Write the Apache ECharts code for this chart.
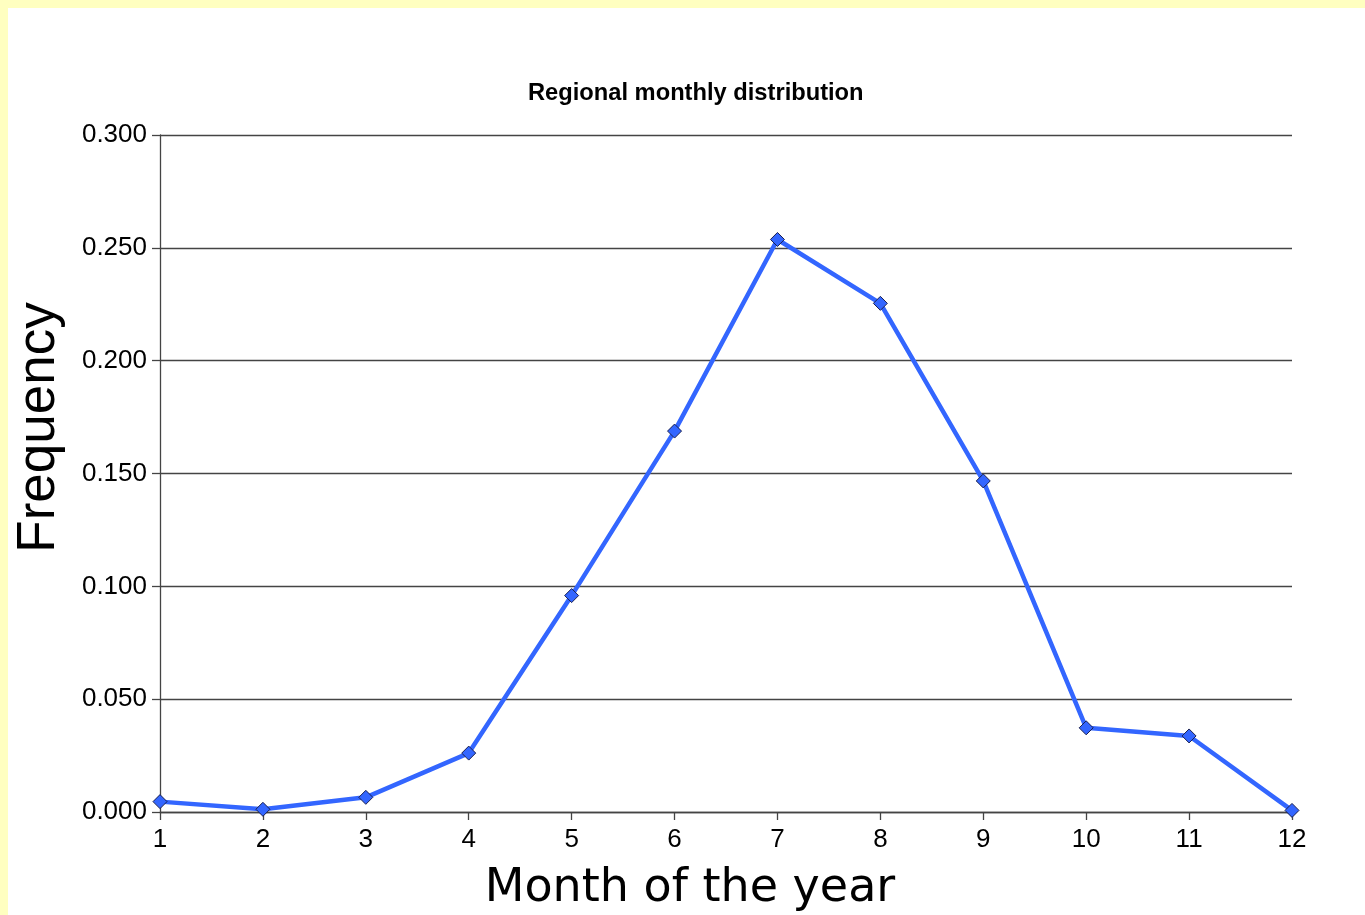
<!DOCTYPE html>
<html>
<head>
<meta charset="utf-8">
<title>Regional monthly distribution</title>
<script src="https://cdn.jsdelivr.net/npm/echarts@6/dist/echarts.min.js"></script>
<style>
  html, body { margin: 0; padding: 0; background: #ffffc0; }
  #chart { width: 1365px; height: 915px; }
</style>
</head>
<body>
<div id="chart"></div>
<script>
// Months along the horizontal axis
const months = ['1', '2', '3', '4', '5', '6', '7', '8', '9', '10', '11', '12'];
// Share of annual occurrences falling in each month
const frequency = [0.0046, 0.0012, 0.0065, 0.0261, 0.0959, 0.1688, 0.2537, 0.2254, 0.1467, 0.0373, 0.0337, 0.0007];

const chart = echarts.init(document.getElementById('chart'), null, { renderer: 'canvas' });

const axisGray = '#444444';
const labelFont = 'Liberation Sans, Arial, Helvetica, sans-serif';

chart.setOption({
  backgroundColor: '#ffffc0',
  animation: false,
  graphic: [{
    type: 'rect',
    z: -100,
    silent: true,
    shape: { x: 8, y: 8, width: 1365, height: 915 },
    style: { fill: '#ffffff' }
  }],
  title: {
    text: 'Regional monthly distribution',
    left: 528,
    top: 81,
    padding: 0,
    textStyle: {
      fontFamily: labelFont,
      fontWeight: 'bold',
      fontSize: 23.7,
      color: '#000000'
    }
  },
  grid: {
    left: 160,
    right: 73,
    top: 135,
    bottom: 103,
    containLabel: false,
    outerBoundsMode: 'none'
  },
  xAxis: {
    type: 'category',
    data: months,
    boundaryGap: false,
    name: 'Month of the year',
    nameLocation: 'middle',
    nameGap: 54,
    nameTextStyle: {
      fontFamily: 'DejaVu Sans, sans-serif',
      fontSize: 46,
      color: '#000000',
      padding: [0, 72, 0, 0]
    },
    axisLine: { show: true, lineStyle: { color: axisGray, width: 1.3 } },
    axisTick: { show: true, alignWithLabel: true, length: 8, lineStyle: { color: axisGray, width: 1.3 } },
    axisLabel: {
      margin: 15,
      fontFamily: labelFont,
      fontSize: 26,
      color: '#000000'
    },
    splitLine: { show: false }
  },
  yAxis: {
    type: 'value',
    min: 0,
    max: 0.3,
    interval: 0.05,
    name: 'Frequency',
    nameLocation: 'middle',
    nameGap: 94,
    nameRotate: 90,
    nameTextStyle: {
      fontFamily: labelFont,
      fontSize: 53,
      color: '#000000',
      padding: [0, 0, 0, 92]
    },
    axisLine: { show: true, lineStyle: { color: axisGray, width: 1.3 } },
    axisTick: { show: true, length: 8, lineStyle: { color: axisGray, width: 1.3 } },
    axisLabel: {
      margin: 13,
      fontFamily: labelFont,
      fontSize: 26,
      color: '#000000',
      formatter: v => v.toFixed(3)
    },
    splitLine: { show: true, lineStyle: { color: axisGray, width: 1.3 } }
  },
  series: [{
    type: 'line',
    data: frequency,
    symbol: 'diamond',
    symbolSize: 14,
    showAllSymbol: true,
    lineStyle: { color: '#3366ff', width: 4.5 },
    itemStyle: { color: '#3366ff', borderColor: '#1a2050', borderWidth: 1 }
  }]
});
</script>
</body>
</html>
